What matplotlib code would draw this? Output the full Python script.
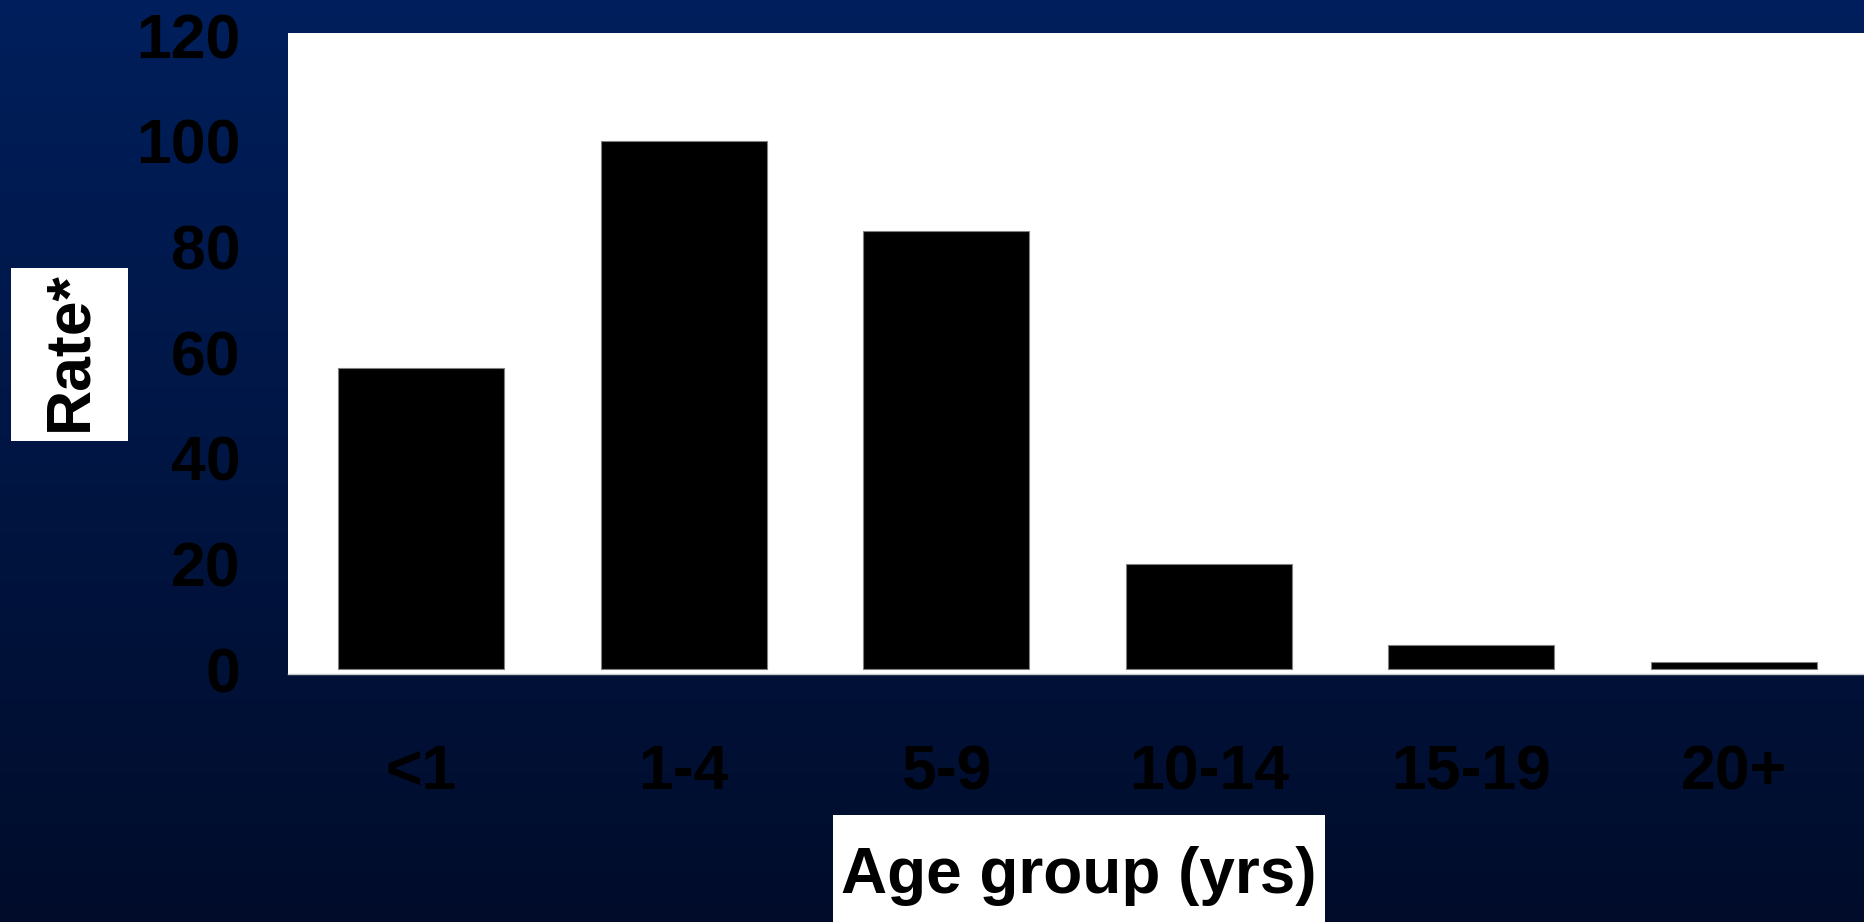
import numpy as np
import matplotlib
matplotlib.use("Agg")
from matplotlib import pyplot as plt
from matplotlib.patches import Rectangle

age_groups = ['<1', '1-4', '5-9', '10-14', '15-19', '20+']
rates = [57, 100, 83, 20, 4.6, 1.3]
y_ticks = [0, 20, 40, 60, 80, 100, 120]

plt.rcParams['font.family'] = ['Liberation Sans', 'DejaVu Sans']
plt.rcParams['font.weight'] = 'bold'

W, H = 1865, 922
fig = plt.figure(figsize=(W / 100, H / 100), dpi=100)

# dark blue vertical gradient behind everything
bg = fig.add_axes([0, 0, 1, 1])
top = np.array([0, 31, 92]) / 255
bottom = np.array([0, 12, 42]) / 255
t = np.linspace(0, 1, 256)[:, None]
grad = (top * (1 - t) + bottom * t)[:, None, :]
bg.imshow(grad, aspect='auto', extent=[0, 1, 0, 1], interpolation='bilinear')
bg.axis('off')

ax = fig.add_axes([288 / W, 1 - 674 / H, (W - 288) / W, 641 / H])
ax.set_facecolor('white')
x = np.arange(len(age_groups))
ax.bar(x, rates, width=0.632, color='black', edgecolor='#808080', linewidth=0.8)

ax.set_xlim(-0.508, 5.5)
ax.set_ylim(-0.9, 120.4)
ax.set_xticks(x)
ax.set_xticklabels(age_groups)
ax.set_yticks(y_ticks)
ax.set_yticklabels([str(v) for v in y_ticks])
ax.tick_params(axis='both', length=0, labelsize=45, labelcolor='black')
ax.tick_params(axis='x', pad=50)
ax.tick_params(axis='y', pad=34)
for side in ['top', 'right', 'left']:
    ax.spines[side].set_visible(False)
ax.spines['bottom'].set_color('#c8c8c8')
ax.spines['bottom'].set_linewidth(1)

# white boxes behind the axis titles
fig.patches.append(Rectangle((11 / W, 1 - 440.7 / H), 117 / W, 173 / H,
                             transform=fig.transFigure, facecolor='white',
                             edgecolor='none', zorder=1))
fig.patches.append(Rectangle((833 / W, 0), 492 / W, 107 / H,
                             transform=fig.transFigure, facecolor='white',
                             edgecolor='none', zorder=1))
fig.text(86 / W, 1 - 351 / H, 'Rate*', rotation=90, rotation_mode='anchor',
         ha='center', va='baseline', fontsize=45, fontweight='bold', color='black', zorder=2)
fig.text(1079 / W, 1 - 893 / H, 'Age group (yrs)', ha='center', va='baseline',
         fontsize=46, fontweight='bold', color='black', zorder=2)

fig.savefig('out.png', dpi=100)
